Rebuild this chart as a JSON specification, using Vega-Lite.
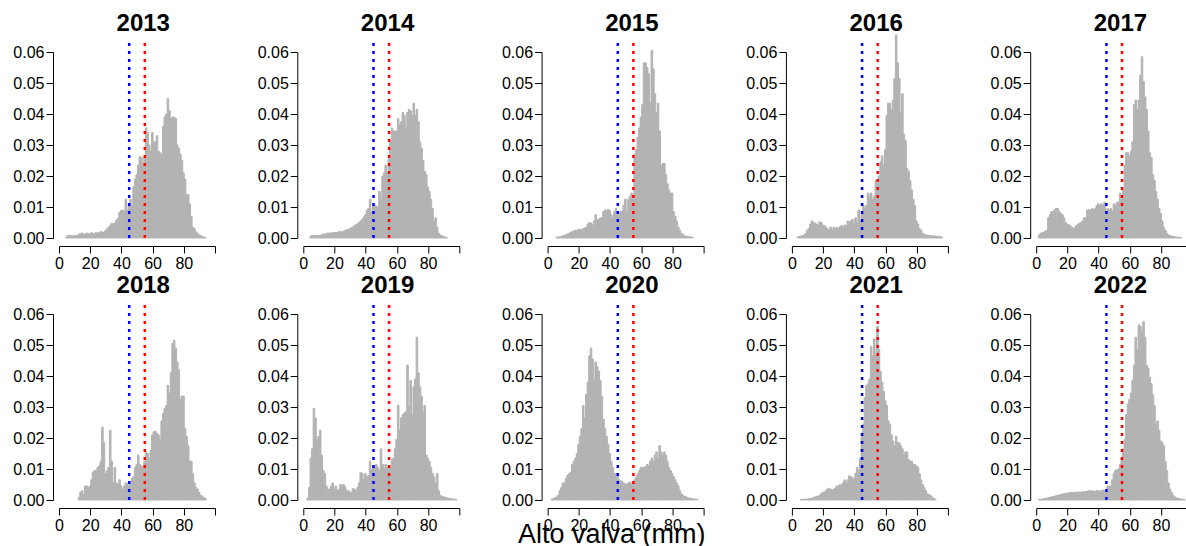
{
"$schema": "https://vega.github.io/schema/vega-lite/v6.json",
"padding": {"left": 12, "top": 10, "right": 0, "bottom": 0},
"background": "white",
"config": {"view": {"stroke": null}, "font": "Liberation Sans", "headerFacet": {"labels": false, "title": null, "labelPadding": 0, "titlePadding": 0}},
"title": {"text": "Alto valva (mm)", "orient": "bottom", "fontSize": 27, "fontWeight": "normal", "font": "Liberation Sans", "color": "#000000", "offset": -11, "anchor": "middle", "dx": 9},
"data": {"values": [
{"yr":"2013","v":45,"c":"b"},{"yr":"2013","v":55,"c":"r"},{"yr":"2014","v":45,"c":"b"},{"yr":"2014","v":55,"c":"r"},{"yr":"2015","v":45,"c":"b"},{"yr":"2015","v":55,"c":"r"},{"yr":"2016","v":45,"c":"b"},{"yr":"2016","v":55,"c":"r"},{"yr":"2017","v":45,"c":"b"},{"yr":"2017","v":55,"c":"r"},{"yr":"2018","v":45,"c":"b"},{"yr":"2018","v":55,"c":"r"},{"yr":"2019","v":45,"c":"b"},{"yr":"2019","v":55,"c":"r"},{"yr":"2020","v":45,"c":"b"},{"yr":"2020","v":55,"c":"r"},{"yr":"2021","v":45,"c":"b"},{"yr":"2021","v":55,"c":"r"},{"yr":"2022","v":45,"c":"b"},{"yr":"2022","v":55,"c":"r"},
{"yr":"2013","b":4,"d":0.0003},{"yr":"2013","b":5,"d":0.0009},{"yr":"2013","b":6,"d":0.0008},{"yr":"2013","b":7,"d":0.0008},{"yr":"2013","b":8,"d":0.0007},{"yr":"2013","b":9,"d":0.0007},{"yr":"2013","b":10,"d":0.0009},{"yr":"2013","b":11,"d":0.0008},{"yr":"2013","b":12,"d":0.0012},{"yr":"2013","b":13,"d":0.0015},{"yr":"2013","b":14,"d":0.0016},{"yr":"2013","b":15,"d":0.0013},{"yr":"2013","b":16,"d":0.0012},{"yr":"2013","b":17,"d":0.0016},{"yr":"2013","b":18,"d":0.0014},{"yr":"2013","b":19,"d":0.0013},{"yr":"2013","b":20,"d":0.0017},{"yr":"2013","b":21,"d":0.0015},{"yr":"2013","b":22,"d":0.0013},{"yr":"2013","b":23,"d":0.0018},{"yr":"2013","b":24,"d":0.0016},{"yr":"2013","b":25,"d":0.0017},{"yr":"2013","b":26,"d":0.0021},{"yr":"2013","b":27,"d":0.0019},{"yr":"2013","b":28,"d":0.0018},{"yr":"2013","b":29,"d":0.0024},{"yr":"2013","b":30,"d":0.003},{"yr":"2013","b":31,"d":0.0034},{"yr":"2013","b":32,"d":0.0041},{"yr":"2013","b":33,"d":0.0047},{"yr":"2013","b":34,"d":0.0046},{"yr":"2013","b":35,"d":0.0048},{"yr":"2013","b":36,"d":0.0058},{"yr":"2013","b":37,"d":0.0063},{"yr":"2013","b":38,"d":0.0082},{"yr":"2013","b":39,"d":0.0089},{"yr":"2013","b":40,"d":0.009},{"yr":"2013","b":41,"d":0.0085},{"yr":"2013","b":42,"d":0.0125},{"yr":"2013","b":43,"d":0.009},{"yr":"2013","b":44,"d":0.011},{"yr":"2013","b":45,"d":0.0125},{"yr":"2013","b":46,"d":0.0105},{"yr":"2013","b":47,"d":0.0165},{"yr":"2013","b":48,"d":0.019},{"yr":"2013","b":49,"d":0.0205},{"yr":"2013","b":50,"d":0.0235},{"yr":"2013","b":51,"d":0.0262},{"yr":"2013","b":52,"d":0.026},{"yr":"2013","b":53,"d":0.024},{"yr":"2013","b":54,"d":0.026},{"yr":"2013","b":55,"d":0.0355},{"yr":"2013","b":56,"d":0.034},{"yr":"2013","b":57,"d":0.03},{"yr":"2013","b":58,"d":0.028},{"yr":"2013","b":59,"d":0.034},{"yr":"2013","b":60,"d":0.031},{"yr":"2013","b":61,"d":0.031},{"yr":"2013","b":62,"d":0.033},{"yr":"2013","b":63,"d":0.028},{"yr":"2013","b":64,"d":0.0275},{"yr":"2013","b":65,"d":0.027},{"yr":"2013","b":66,"d":0.036},{"yr":"2013","b":67,"d":0.039},{"yr":"2013","b":68,"d":0.04},{"yr":"2013","b":69,"d":0.045},{"yr":"2013","b":70,"d":0.041},{"yr":"2013","b":71,"d":0.0385},{"yr":"2013","b":72,"d":0.039},{"yr":"2013","b":73,"d":0.039},{"yr":"2013","b":74,"d":0.0385},{"yr":"2013","b":75,"d":0.03},{"yr":"2013","b":76,"d":0.029},{"yr":"2013","b":77,"d":0.027},{"yr":"2013","b":78,"d":0.025},{"yr":"2013","b":79,"d":0.021},{"yr":"2013","b":80,"d":0.019},{"yr":"2013","b":81,"d":0.014},{"yr":"2013","b":82,"d":0.014},{"yr":"2013","b":83,"d":0.011},{"yr":"2013","b":84,"d":0.007},{"yr":"2013","b":85,"d":0.0035},{"yr":"2013","b":86,"d":0.003},{"yr":"2013","b":87,"d":0.002},{"yr":"2013","b":88,"d":0.0015},{"yr":"2013","b":89,"d":0.001},{"yr":"2013","b":90,"d":0.0008},{"yr":"2013","b":91,"d":0.0005},{"yr":"2013","b":92,"d":0.0003},{"yr":"2013","b":93,"d":0.0002},
{"yr":"2014","b":4,"d":0.0006},{"yr":"2014","b":5,"d":0.0008},{"yr":"2014","b":6,"d":0.0008},{"yr":"2014","b":7,"d":0.0008},{"yr":"2014","b":8,"d":0.0007},{"yr":"2014","b":9,"d":0.0009},{"yr":"2014","b":10,"d":0.0008},{"yr":"2014","b":11,"d":0.001},{"yr":"2014","b":12,"d":0.0013},{"yr":"2014","b":13,"d":0.0012},{"yr":"2014","b":14,"d":0.0015},{"yr":"2014","b":15,"d":0.0016},{"yr":"2014","b":16,"d":0.0014},{"yr":"2014","b":17,"d":0.0017},{"yr":"2014","b":18,"d":0.0016},{"yr":"2014","b":19,"d":0.0018},{"yr":"2014","b":20,"d":0.0018},{"yr":"2014","b":21,"d":0.0017},{"yr":"2014","b":22,"d":0.002},{"yr":"2014","b":23,"d":0.0021},{"yr":"2014","b":24,"d":0.0019},{"yr":"2014","b":25,"d":0.0022},{"yr":"2014","b":26,"d":0.0024},{"yr":"2014","b":27,"d":0.0028},{"yr":"2014","b":28,"d":0.0025},{"yr":"2014","b":29,"d":0.003},{"yr":"2014","b":30,"d":0.0033},{"yr":"2014","b":31,"d":0.0035},{"yr":"2014","b":32,"d":0.004},{"yr":"2014","b":33,"d":0.0043},{"yr":"2014","b":34,"d":0.0046},{"yr":"2014","b":35,"d":0.005},{"yr":"2014","b":36,"d":0.0055},{"yr":"2014","b":37,"d":0.006},{"yr":"2014","b":38,"d":0.0068},{"yr":"2014","b":39,"d":0.0075},{"yr":"2014","b":40,"d":0.009},{"yr":"2014","b":41,"d":0.0095},{"yr":"2014","b":42,"d":0.0125},{"yr":"2014","b":43,"d":0.0085},{"yr":"2014","b":44,"d":0.0105},{"yr":"2014","b":45,"d":0.0105},{"yr":"2014","b":46,"d":0.0103},{"yr":"2014","b":47,"d":0.01},{"yr":"2014","b":48,"d":0.015},{"yr":"2014","b":49,"d":0.0125},{"yr":"2014","b":50,"d":0.0198},{"yr":"2014","b":51,"d":0.021},{"yr":"2014","b":52,"d":0.0235},{"yr":"2014","b":53,"d":0.021},{"yr":"2014","b":54,"d":0.0255},{"yr":"2014","b":55,"d":0.031},{"yr":"2014","b":56,"d":0.0355},{"yr":"2014","b":57,"d":0.0345},{"yr":"2014","b":58,"d":0.0345},{"yr":"2014","b":59,"d":0.0345},{"yr":"2014","b":60,"d":0.0385},{"yr":"2014","b":61,"d":0.0365},{"yr":"2014","b":62,"d":0.0375},{"yr":"2014","b":63,"d":0.0405},{"yr":"2014","b":64,"d":0.0395},{"yr":"2014","b":65,"d":0.0355},{"yr":"2014","b":66,"d":0.0405},{"yr":"2014","b":67,"d":0.0415},{"yr":"2014","b":68,"d":0.041},{"yr":"2014","b":69,"d":0.0395},{"yr":"2014","b":70,"d":0.0435},{"yr":"2014","b":71,"d":0.0395},{"yr":"2014","b":72,"d":0.0415},{"yr":"2014","b":73,"d":0.0375},{"yr":"2014","b":74,"d":0.031},{"yr":"2014","b":75,"d":0.029},{"yr":"2014","b":76,"d":0.025},{"yr":"2014","b":77,"d":0.0215},{"yr":"2014","b":78,"d":0.0205},{"yr":"2014","b":79,"d":0.0165},{"yr":"2014","b":80,"d":0.015},{"yr":"2014","b":81,"d":0.0125},{"yr":"2014","b":82,"d":0.0095},{"yr":"2014","b":83,"d":0.0055},{"yr":"2014","b":84,"d":0.0065},{"yr":"2014","b":85,"d":0.0035},{"yr":"2014","b":86,"d":0.0015},{"yr":"2014","b":87,"d":0.001},{"yr":"2014","b":88,"d":0.0008},{"yr":"2014","b":89,"d":0.0005},{"yr":"2014","b":90,"d":0.0003},{"yr":"2014","b":91,"d":0.0002},
{"yr":"2015","b":5,"d":0.0002},{"yr":"2015","b":6,"d":0.0003},{"yr":"2015","b":7,"d":0.0004},{"yr":"2015","b":8,"d":0.0005},{"yr":"2015","b":9,"d":0.0007},{"yr":"2015","b":10,"d":0.0009},{"yr":"2015","b":11,"d":0.001},{"yr":"2015","b":12,"d":0.0013},{"yr":"2015","b":13,"d":0.0015},{"yr":"2015","b":14,"d":0.0018},{"yr":"2015","b":15,"d":0.002},{"yr":"2015","b":16,"d":0.0023},{"yr":"2015","b":17,"d":0.0025},{"yr":"2015","b":18,"d":0.0024},{"yr":"2015","b":19,"d":0.0028},{"yr":"2015","b":20,"d":0.0028},{"yr":"2015","b":21,"d":0.0026},{"yr":"2015","b":22,"d":0.003},{"yr":"2015","b":23,"d":0.0032},{"yr":"2015","b":24,"d":0.0035},{"yr":"2015","b":25,"d":0.0045},{"yr":"2015","b":26,"d":0.005},{"yr":"2015","b":27,"d":0.0048},{"yr":"2015","b":28,"d":0.0042},{"yr":"2015","b":29,"d":0.0055},{"yr":"2015","b":30,"d":0.0075},{"yr":"2015","b":31,"d":0.006},{"yr":"2015","b":32,"d":0.006},{"yr":"2015","b":33,"d":0.0065},{"yr":"2015","b":34,"d":0.0065},{"yr":"2015","b":35,"d":0.0085},{"yr":"2015","b":36,"d":0.009},{"yr":"2015","b":37,"d":0.0088},{"yr":"2015","b":38,"d":0.0092},{"yr":"2015","b":39,"d":0.0088},{"yr":"2015","b":40,"d":0.0075},{"yr":"2015","b":41,"d":0.0065},{"yr":"2015","b":42,"d":0.0085},{"yr":"2015","b":43,"d":0.0095},{"yr":"2015","b":44,"d":0.0075},{"yr":"2015","b":45,"d":0.0075},{"yr":"2015","b":46,"d":0.0085},{"yr":"2015","b":47,"d":0.0085},{"yr":"2015","b":48,"d":0.0105},{"yr":"2015","b":49,"d":0.0125},{"yr":"2015","b":50,"d":0.0085},{"yr":"2015","b":51,"d":0.0125},{"yr":"2015","b":52,"d":0.0135},{"yr":"2015","b":53,"d":0.0145},{"yr":"2015","b":54,"d":0.0125},{"yr":"2015","b":55,"d":0.027},{"yr":"2015","b":56,"d":0.0285},{"yr":"2015","b":57,"d":0.0325},{"yr":"2015","b":58,"d":0.0355},{"yr":"2015","b":59,"d":0.039},{"yr":"2015","b":60,"d":0.043},{"yr":"2015","b":61,"d":0.0565},{"yr":"2015","b":62,"d":0.0565},{"yr":"2015","b":63,"d":0.055},{"yr":"2015","b":64,"d":0.053},{"yr":"2015","b":65,"d":0.0435},{"yr":"2015","b":66,"d":0.0605},{"yr":"2015","b":67,"d":0.0545},{"yr":"2015","b":68,"d":0.0465},{"yr":"2015","b":69,"d":0.0405},{"yr":"2015","b":70,"d":0.0435},{"yr":"2015","b":71,"d":0.0345},{"yr":"2015","b":72,"d":0.0235},{"yr":"2015","b":73,"d":0.024},{"yr":"2015","b":74,"d":0.024},{"yr":"2015","b":75,"d":0.0205},{"yr":"2015","b":76,"d":0.0175},{"yr":"2015","b":77,"d":0.0155},{"yr":"2015","b":78,"d":0.0145},{"yr":"2015","b":79,"d":0.0145},{"yr":"2015","b":80,"d":0.0085},{"yr":"2015","b":81,"d":0.007},{"yr":"2015","b":82,"d":0.0055},{"yr":"2015","b":83,"d":0.0035},{"yr":"2015","b":84,"d":0.0025},{"yr":"2015","b":85,"d":0.0015},{"yr":"2015","b":86,"d":0.0012},{"yr":"2015","b":87,"d":0.0007},{"yr":"2015","b":88,"d":0.0006},{"yr":"2015","b":89,"d":0.0005},{"yr":"2015","b":90,"d":0.0004},{"yr":"2015","b":91,"d":0.0003},{"yr":"2015","b":92,"d":0.0002},
{"yr":"2016","b":3,"d":0.0003},{"yr":"2016","b":4,"d":0.0005},{"yr":"2016","b":5,"d":0.0006},{"yr":"2016","b":6,"d":0.0008},{"yr":"2016","b":7,"d":0.001},{"yr":"2016","b":8,"d":0.0015},{"yr":"2016","b":9,"d":0.0025},{"yr":"2016","b":10,"d":0.003},{"yr":"2016","b":11,"d":0.0045},{"yr":"2016","b":12,"d":0.0055},{"yr":"2016","b":13,"d":0.005},{"yr":"2016","b":14,"d":0.0048},{"yr":"2016","b":15,"d":0.0045},{"yr":"2016","b":16,"d":0.004},{"yr":"2016","b":17,"d":0.0052},{"yr":"2016","b":18,"d":0.005},{"yr":"2016","b":19,"d":0.0042},{"yr":"2016","b":20,"d":0.004},{"yr":"2016","b":21,"d":0.0035},{"yr":"2016","b":22,"d":0.003},{"yr":"2016","b":23,"d":0.0025},{"yr":"2016","b":24,"d":0.0035},{"yr":"2016","b":25,"d":0.0025},{"yr":"2016","b":26,"d":0.0035},{"yr":"2016","b":27,"d":0.003},{"yr":"2016","b":28,"d":0.0035},{"yr":"2016","b":29,"d":0.003},{"yr":"2016","b":30,"d":0.0037},{"yr":"2016","b":31,"d":0.004},{"yr":"2016","b":32,"d":0.0033},{"yr":"2016","b":33,"d":0.0042},{"yr":"2016","b":34,"d":0.004},{"yr":"2016","b":35,"d":0.0055},{"yr":"2016","b":36,"d":0.0052},{"yr":"2016","b":37,"d":0.0055},{"yr":"2016","b":38,"d":0.006},{"yr":"2016","b":39,"d":0.0045},{"yr":"2016","b":40,"d":0.0065},{"yr":"2016","b":41,"d":0.0048},{"yr":"2016","b":42,"d":0.009},{"yr":"2016","b":43,"d":0.0055},{"yr":"2016","b":44,"d":0.0085},{"yr":"2016","b":45,"d":0.0105},{"yr":"2016","b":46,"d":0.0095},{"yr":"2016","b":47,"d":0.0105},{"yr":"2016","b":48,"d":0.0145},{"yr":"2016","b":49,"d":0.0135},{"yr":"2016","b":50,"d":0.0145},{"yr":"2016","b":51,"d":0.0125},{"yr":"2016","b":52,"d":0.0135},{"yr":"2016","b":53,"d":0.0185},{"yr":"2016","b":54,"d":0.0175},{"yr":"2016","b":55,"d":0.02},{"yr":"2016","b":56,"d":0.0245},{"yr":"2016","b":57,"d":0.0265},{"yr":"2016","b":58,"d":0.0235},{"yr":"2016","b":59,"d":0.0285},{"yr":"2016","b":60,"d":0.0395},{"yr":"2016","b":61,"d":0.0435},{"yr":"2016","b":62,"d":0.0435},{"yr":"2016","b":63,"d":0.0415},{"yr":"2016","b":64,"d":0.0445},{"yr":"2016","b":65,"d":0.0515},{"yr":"2016","b":66,"d":0.0655},{"yr":"2016","b":67,"d":0.0565},{"yr":"2016","b":68,"d":0.0515},{"yr":"2016","b":69,"d":0.0405},{"yr":"2016","b":70,"d":0.0465},{"yr":"2016","b":71,"d":0.0335},{"yr":"2016","b":72,"d":0.0315},{"yr":"2016","b":73,"d":0.0225},{"yr":"2016","b":74,"d":0.0215},{"yr":"2016","b":75,"d":0.0185},{"yr":"2016","b":76,"d":0.0155},{"yr":"2016","b":77,"d":0.0125},{"yr":"2016","b":78,"d":0.0105},{"yr":"2016","b":79,"d":0.0055},{"yr":"2016","b":80,"d":0.0045},{"yr":"2016","b":81,"d":0.003},{"yr":"2016","b":82,"d":0.0025},{"yr":"2016","b":83,"d":0.0015},{"yr":"2016","b":84,"d":0.0012},{"yr":"2016","b":85,"d":0.001},{"yr":"2016","b":86,"d":0.0009},{"yr":"2016","b":87,"d":0.0008},{"yr":"2016","b":88,"d":0.0008},{"yr":"2016","b":89,"d":0.0007},{"yr":"2016","b":90,"d":0.0007},{"yr":"2016","b":91,"d":0.0006},{"yr":"2016","b":92,"d":0.0006},{"yr":"2016","b":93,"d":0.0005},{"yr":"2016","b":94,"d":0.0005},{"yr":"2016","b":95,"d":0.0003},
{"yr":"2017","b":1,"d":0.0008},{"yr":"2017","b":2,"d":0.0015},{"yr":"2017","b":3,"d":0.0017},{"yr":"2017","b":4,"d":0.0018},{"yr":"2017","b":5,"d":0.0022},{"yr":"2017","b":6,"d":0.0025},{"yr":"2017","b":7,"d":0.0065},{"yr":"2017","b":8,"d":0.0075},{"yr":"2017","b":9,"d":0.0085},{"yr":"2017","b":10,"d":0.0085},{"yr":"2017","b":11,"d":0.0092},{"yr":"2017","b":12,"d":0.0095},{"yr":"2017","b":13,"d":0.0095},{"yr":"2017","b":14,"d":0.0085},{"yr":"2017","b":15,"d":0.008},{"yr":"2017","b":16,"d":0.0075},{"yr":"2017","b":17,"d":0.0065},{"yr":"2017","b":18,"d":0.005},{"yr":"2017","b":19,"d":0.0045},{"yr":"2017","b":20,"d":0.0043},{"yr":"2017","b":21,"d":0.004},{"yr":"2017","b":22,"d":0.0035},{"yr":"2017","b":23,"d":0.003},{"yr":"2017","b":24,"d":0.0035},{"yr":"2017","b":25,"d":0.004},{"yr":"2017","b":26,"d":0.0045},{"yr":"2017","b":27,"d":0.0048},{"yr":"2017","b":28,"d":0.005},{"yr":"2017","b":29,"d":0.0055},{"yr":"2017","b":30,"d":0.0065},{"yr":"2017","b":31,"d":0.0065},{"yr":"2017","b":32,"d":0.009},{"yr":"2017","b":33,"d":0.0092},{"yr":"2017","b":34,"d":0.0088},{"yr":"2017","b":35,"d":0.0095},{"yr":"2017","b":36,"d":0.0092},{"yr":"2017","b":37,"d":0.0095},{"yr":"2017","b":38,"d":0.0105},{"yr":"2017","b":39,"d":0.011},{"yr":"2017","b":40,"d":0.0105},{"yr":"2017","b":41,"d":0.011},{"yr":"2017","b":42,"d":0.0105},{"yr":"2017","b":43,"d":0.0115},{"yr":"2017","b":44,"d":0.0085},{"yr":"2017","b":45,"d":0.0095},{"yr":"2017","b":46,"d":0.009},{"yr":"2017","b":47,"d":0.0095},{"yr":"2017","b":48,"d":0.0085},{"yr":"2017","b":49,"d":0.011},{"yr":"2017","b":50,"d":0.0105},{"yr":"2017","b":51,"d":0.0115},{"yr":"2017","b":52,"d":0.0115},{"yr":"2017","b":53,"d":0.0145},{"yr":"2017","b":54,"d":0.0125},{"yr":"2017","b":55,"d":0.0155},{"yr":"2017","b":56,"d":0.0235},{"yr":"2017","b":57,"d":0.0275},{"yr":"2017","b":58,"d":0.0275},{"yr":"2017","b":59,"d":0.0265},{"yr":"2017","b":60,"d":0.028},{"yr":"2017","b":61,"d":0.031},{"yr":"2017","b":62,"d":0.043},{"yr":"2017","b":63,"d":0.0445},{"yr":"2017","b":64,"d":0.0415},{"yr":"2017","b":65,"d":0.0445},{"yr":"2017","b":66,"d":0.0525},{"yr":"2017","b":67,"d":0.0585},{"yr":"2017","b":68,"d":0.0505},{"yr":"2017","b":69,"d":0.0455},{"yr":"2017","b":70,"d":0.0415},{"yr":"2017","b":71,"d":0.0345},{"yr":"2017","b":72,"d":0.0275},{"yr":"2017","b":73,"d":0.026},{"yr":"2017","b":74,"d":0.0205},{"yr":"2017","b":75,"d":0.0185},{"yr":"2017","b":76,"d":0.015},{"yr":"2017","b":77,"d":0.0125},{"yr":"2017","b":78,"d":0.0095},{"yr":"2017","b":79,"d":0.008},{"yr":"2017","b":80,"d":0.0055},{"yr":"2017","b":81,"d":0.0035},{"yr":"2017","b":82,"d":0.0025},{"yr":"2017","b":83,"d":0.0015},{"yr":"2017","b":84,"d":0.001},{"yr":"2017","b":85,"d":0.0008},{"yr":"2017","b":86,"d":0.0006},{"yr":"2017","b":87,"d":0.0005},{"yr":"2017","b":88,"d":0.0004},{"yr":"2017","b":89,"d":0.0003},{"yr":"2017","b":90,"d":0.0002},{"yr":"2017","b":91,"d":0.0002},{"yr":"2017","b":92,"d":0.0001},
{"yr":"2018","b":12,"d":0.0008},{"yr":"2018","b":13,"d":0.0025},{"yr":"2018","b":14,"d":0.003},{"yr":"2018","b":15,"d":0.0018},{"yr":"2018","b":16,"d":0.0045},{"yr":"2018","b":17,"d":0.0045},{"yr":"2018","b":18,"d":0.004},{"yr":"2018","b":19,"d":0.0045},{"yr":"2018","b":20,"d":0.0065},{"yr":"2018","b":21,"d":0.009},{"yr":"2018","b":22,"d":0.0095},{"yr":"2018","b":23,"d":0.0095},{"yr":"2018","b":24,"d":0.0105},{"yr":"2018","b":25,"d":0.011},{"yr":"2018","b":26,"d":0.0125},{"yr":"2018","b":27,"d":0.0235},{"yr":"2018","b":28,"d":0.0185},{"yr":"2018","b":29,"d":0.0085},{"yr":"2018","b":30,"d":0.0095},{"yr":"2018","b":31,"d":0.0105},{"yr":"2018","b":32,"d":0.0225},{"yr":"2018","b":33,"d":0.0125},{"yr":"2018","b":34,"d":0.0055},{"yr":"2018","b":35,"d":0.0105},{"yr":"2018","b":36,"d":0.0055},{"yr":"2018","b":37,"d":0.005},{"yr":"2018","b":38,"d":0.0065},{"yr":"2018","b":39,"d":0.0045},{"yr":"2018","b":40,"d":0.0035},{"yr":"2018","b":41,"d":0.0045},{"yr":"2018","b":42,"d":0.0055},{"yr":"2018","b":43,"d":0.0052},{"yr":"2018","b":44,"d":0.0045},{"yr":"2018","b":45,"d":0.006},{"yr":"2018","b":46,"d":0.007},{"yr":"2018","b":47,"d":0.0075},{"yr":"2018","b":48,"d":0.0105},{"yr":"2018","b":49,"d":0.0115},{"yr":"2018","b":50,"d":0.0145},{"yr":"2018","b":51,"d":0.0115},{"yr":"2018","b":52,"d":0.011},{"yr":"2018","b":53,"d":0.0105},{"yr":"2018","b":54,"d":0.0125},{"yr":"2018","b":55,"d":0.0155},{"yr":"2018","b":56,"d":0.015},{"yr":"2018","b":57,"d":0.0135},{"yr":"2018","b":58,"d":0.016},{"yr":"2018","b":59,"d":0.021},{"yr":"2018","b":60,"d":0.022},{"yr":"2018","b":61,"d":0.0222},{"yr":"2018","b":62,"d":0.0215},{"yr":"2018","b":63,"d":0.021},{"yr":"2018","b":64,"d":0.0195},{"yr":"2018","b":65,"d":0.0255},{"yr":"2018","b":66,"d":0.028},{"yr":"2018","b":67,"d":0.0295},{"yr":"2018","b":68,"d":0.0305},{"yr":"2018","b":69,"d":0.037},{"yr":"2018","b":70,"d":0.0345},{"yr":"2018","b":71,"d":0.041},{"yr":"2018","b":72,"d":0.0505},{"yr":"2018","b":73,"d":0.0515},{"yr":"2018","b":74,"d":0.049},{"yr":"2018","b":75,"d":0.0445},{"yr":"2018","b":76,"d":0.042},{"yr":"2018","b":77,"d":0.0325},{"yr":"2018","b":78,"d":0.0335},{"yr":"2018","b":79,"d":0.0335},{"yr":"2018","b":80,"d":0.023},{"yr":"2018","b":81,"d":0.0205},{"yr":"2018","b":82,"d":0.0175},{"yr":"2018","b":83,"d":0.0125},{"yr":"2018","b":84,"d":0.0125},{"yr":"2018","b":85,"d":0.0085},{"yr":"2018","b":86,"d":0.0055},{"yr":"2018","b":87,"d":0.004},{"yr":"2018","b":88,"d":0.0035},{"yr":"2018","b":89,"d":0.0025},{"yr":"2018","b":90,"d":0.0015},{"yr":"2018","b":91,"d":0.0012},{"yr":"2018","b":92,"d":0.0008},{"yr":"2018","b":93,"d":0.0005},
{"yr":"2019","b":2,"d":0.0005},{"yr":"2019","b":3,"d":0.004},{"yr":"2019","b":4,"d":0.0135},{"yr":"2019","b":5,"d":0.0165},{"yr":"2019","b":6,"d":0.0295},{"yr":"2019","b":7,"d":0.0265},{"yr":"2019","b":8,"d":0.0195},{"yr":"2019","b":9,"d":0.0205},{"yr":"2019","b":10,"d":0.0225},{"yr":"2019","b":11,"d":0.0145},{"yr":"2019","b":12,"d":0.0095},{"yr":"2019","b":13,"d":0.0085},{"yr":"2019","b":14,"d":0.0045},{"yr":"2019","b":15,"d":0.0035},{"yr":"2019","b":16,"d":0.0035},{"yr":"2019","b":17,"d":0.0045},{"yr":"2019","b":18,"d":0.0055},{"yr":"2019","b":19,"d":0.0035},{"yr":"2019","b":20,"d":0.0045},{"yr":"2019","b":21,"d":0.003},{"yr":"2019","b":22,"d":0.0035},{"yr":"2019","b":23,"d":0.005},{"yr":"2019","b":24,"d":0.0045},{"yr":"2019","b":25,"d":0.005},{"yr":"2019","b":26,"d":0.0042},{"yr":"2019","b":27,"d":0.003},{"yr":"2019","b":28,"d":0.003},{"yr":"2019","b":29,"d":0.0025},{"yr":"2019","b":30,"d":0.0025},{"yr":"2019","b":31,"d":0.0037},{"yr":"2019","b":32,"d":0.0035},{"yr":"2019","b":33,"d":0.003},{"yr":"2019","b":34,"d":0.004},{"yr":"2019","b":35,"d":0.0055},{"yr":"2019","b":36,"d":0.0088},{"yr":"2019","b":37,"d":0.0085},{"yr":"2019","b":38,"d":0.0065},{"yr":"2019","b":39,"d":0.0085},{"yr":"2019","b":40,"d":0.0075},{"yr":"2019","b":41,"d":0.0078},{"yr":"2019","b":42,"d":0.0125},{"yr":"2019","b":43,"d":0.0098},{"yr":"2019","b":44,"d":0.011},{"yr":"2019","b":45,"d":0.011},{"yr":"2019","b":46,"d":0.0115},{"yr":"2019","b":47,"d":0.0105},{"yr":"2019","b":48,"d":0.0095},{"yr":"2019","b":49,"d":0.0165},{"yr":"2019","b":50,"d":0.0115},{"yr":"2019","b":51,"d":0.01},{"yr":"2019","b":52,"d":0.0115},{"yr":"2019","b":53,"d":0.0105},{"yr":"2019","b":54,"d":0.01},{"yr":"2019","b":55,"d":0.0105},{"yr":"2019","b":56,"d":0.013},{"yr":"2019","b":57,"d":0.0135},{"yr":"2019","b":58,"d":0.0165},{"yr":"2019","b":59,"d":0.0195},{"yr":"2019","b":60,"d":0.0305},{"yr":"2019","b":61,"d":0.0225},{"yr":"2019","b":62,"d":0.0265},{"yr":"2019","b":63,"d":0.0275},{"yr":"2019","b":64,"d":0.028},{"yr":"2019","b":65,"d":0.0285},{"yr":"2019","b":66,"d":0.0435},{"yr":"2019","b":67,"d":0.03},{"yr":"2019","b":68,"d":0.0385},{"yr":"2019","b":69,"d":0.0275},{"yr":"2019","b":70,"d":0.0365},{"yr":"2019","b":71,"d":0.039},{"yr":"2019","b":72,"d":0.0525},{"yr":"2019","b":73,"d":0.041},{"yr":"2019","b":74,"d":0.0365},{"yr":"2019","b":75,"d":0.0335},{"yr":"2019","b":76,"d":0.0285},{"yr":"2019","b":77,"d":0.0305},{"yr":"2019","b":78,"d":0.0145},{"yr":"2019","b":79,"d":0.0135},{"yr":"2019","b":80,"d":0.0125},{"yr":"2019","b":81,"d":0.0105},{"yr":"2019","b":82,"d":0.0085},{"yr":"2019","b":83,"d":0.0075},{"yr":"2019","b":84,"d":0.0055},{"yr":"2019","b":85,"d":0.0085},{"yr":"2019","b":86,"d":0.003},{"yr":"2019","b":87,"d":0.0015},{"yr":"2019","b":88,"d":0.0012},{"yr":"2019","b":89,"d":0.001},{"yr":"2019","b":90,"d":0.0009},{"yr":"2019","b":91,"d":0.0007},{"yr":"2019","b":92,"d":0.0006},{"yr":"2019","b":93,"d":0.0005},{"yr":"2019","b":94,"d":0.0004},{"yr":"2019","b":95,"d":0.0003},{"yr":"2019","b":96,"d":0.0003},{"yr":"2019","b":97,"d":0.0002},
{"yr":"2020","b":2,"d":0.0003},{"yr":"2020","b":3,"d":0.0005},{"yr":"2020","b":4,"d":0.0008},{"yr":"2020","b":5,"d":0.001},{"yr":"2020","b":6,"d":0.0015},{"yr":"2020","b":7,"d":0.003},{"yr":"2020","b":8,"d":0.004},{"yr":"2020","b":9,"d":0.0055},{"yr":"2020","b":10,"d":0.0055},{"yr":"2020","b":11,"d":0.007},{"yr":"2020","b":12,"d":0.008},{"yr":"2020","b":13,"d":0.0085},{"yr":"2020","b":14,"d":0.009},{"yr":"2020","b":15,"d":0.0115},{"yr":"2020","b":16,"d":0.0125},{"yr":"2020","b":17,"d":0.0135},{"yr":"2020","b":18,"d":0.015},{"yr":"2020","b":19,"d":0.018},{"yr":"2020","b":20,"d":0.0205},{"yr":"2020","b":21,"d":0.023},{"yr":"2020","b":22,"d":0.0305},{"yr":"2020","b":23,"d":0.0265},{"yr":"2020","b":24,"d":0.034},{"yr":"2020","b":25,"d":0.038},{"yr":"2020","b":26,"d":0.0465},{"yr":"2020","b":27,"d":0.049},{"yr":"2020","b":28,"d":0.0455},{"yr":"2020","b":29,"d":0.0385},{"yr":"2020","b":30,"d":0.0445},{"yr":"2020","b":31,"d":0.043},{"yr":"2020","b":32,"d":0.0415},{"yr":"2020","b":33,"d":0.0385},{"yr":"2020","b":34,"d":0.0335},{"yr":"2020","b":35,"d":0.026},{"yr":"2020","b":36,"d":0.023},{"yr":"2020","b":37,"d":0.0205},{"yr":"2020","b":38,"d":0.018},{"yr":"2020","b":39,"d":0.015},{"yr":"2020","b":40,"d":0.0125},{"yr":"2020","b":41,"d":0.0105},{"yr":"2020","b":42,"d":0.0085},{"yr":"2020","b":43,"d":0.0085},{"yr":"2020","b":44,"d":0.0085},{"yr":"2020","b":45,"d":0.0065},{"yr":"2020","b":46,"d":0.0062},{"yr":"2020","b":47,"d":0.006},{"yr":"2020","b":48,"d":0.0055},{"yr":"2020","b":49,"d":0.005},{"yr":"2020","b":50,"d":0.0052},{"yr":"2020","b":51,"d":0.0055},{"yr":"2020","b":52,"d":0.0058},{"yr":"2020","b":53,"d":0.0052},{"yr":"2020","b":54,"d":0.006},{"yr":"2020","b":55,"d":0.0065},{"yr":"2020","b":56,"d":0.0075},{"yr":"2020","b":57,"d":0.0085},{"yr":"2020","b":58,"d":0.0095},{"yr":"2020","b":59,"d":0.0105},{"yr":"2020","b":60,"d":0.0105},{"yr":"2020","b":61,"d":0.0105},{"yr":"2020","b":62,"d":0.0108},{"yr":"2020","b":63,"d":0.0115},{"yr":"2020","b":64,"d":0.011},{"yr":"2020","b":65,"d":0.0125},{"yr":"2020","b":66,"d":0.0135},{"yr":"2020","b":67,"d":0.0125},{"yr":"2020","b":68,"d":0.0145},{"yr":"2020","b":69,"d":0.0155},{"yr":"2020","b":70,"d":0.0135},{"yr":"2020","b":71,"d":0.0175},{"yr":"2020","b":72,"d":0.0155},{"yr":"2020","b":73,"d":0.0145},{"yr":"2020","b":74,"d":0.0155},{"yr":"2020","b":75,"d":0.0145},{"yr":"2020","b":76,"d":0.0125},{"yr":"2020","b":77,"d":0.0105},{"yr":"2020","b":78,"d":0.0095},{"yr":"2020","b":79,"d":0.0085},{"yr":"2020","b":80,"d":0.0075},{"yr":"2020","b":81,"d":0.0065},{"yr":"2020","b":82,"d":0.0055},{"yr":"2020","b":83,"d":0.0045},{"yr":"2020","b":84,"d":0.003},{"yr":"2020","b":85,"d":0.002},{"yr":"2020","b":86,"d":0.0015},{"yr":"2020","b":87,"d":0.0012},{"yr":"2020","b":88,"d":0.001},{"yr":"2020","b":89,"d":0.0008},{"yr":"2020","b":90,"d":0.0006},{"yr":"2020","b":91,"d":0.0005},{"yr":"2020","b":92,"d":0.0004},{"yr":"2020","b":93,"d":0.0003},{"yr":"2020","b":94,"d":0.0003},{"yr":"2020","b":95,"d":0.0002},
{"yr":"2021","b":5,"d":0.0002},{"yr":"2021","b":6,"d":0.0002},{"yr":"2021","b":7,"d":0.0002},{"yr":"2021","b":8,"d":0.0003},{"yr":"2021","b":9,"d":0.0003},{"yr":"2021","b":10,"d":0.0004},{"yr":"2021","b":11,"d":0.0005},{"yr":"2021","b":12,"d":0.0006},{"yr":"2021","b":13,"d":0.0008},{"yr":"2021","b":14,"d":0.001},{"yr":"2021","b":15,"d":0.0012},{"yr":"2021","b":16,"d":0.0012},{"yr":"2021","b":17,"d":0.0015},{"yr":"2021","b":18,"d":0.002},{"yr":"2021","b":19,"d":0.0025},{"yr":"2021","b":20,"d":0.0025},{"yr":"2021","b":21,"d":0.003},{"yr":"2021","b":22,"d":0.0035},{"yr":"2021","b":23,"d":0.0038},{"yr":"2021","b":24,"d":0.0035},{"yr":"2021","b":25,"d":0.0033},{"yr":"2021","b":26,"d":0.0035},{"yr":"2021","b":27,"d":0.0038},{"yr":"2021","b":28,"d":0.0045},{"yr":"2021","b":29,"d":0.0045},{"yr":"2021","b":30,"d":0.005},{"yr":"2021","b":31,"d":0.0048},{"yr":"2021","b":32,"d":0.0055},{"yr":"2021","b":33,"d":0.0065},{"yr":"2021","b":34,"d":0.0055},{"yr":"2021","b":35,"d":0.0065},{"yr":"2021","b":36,"d":0.0078},{"yr":"2021","b":37,"d":0.0075},{"yr":"2021","b":38,"d":0.0072},{"yr":"2021","b":39,"d":0.0065},{"yr":"2021","b":40,"d":0.0085},{"yr":"2021","b":41,"d":0.0105},{"yr":"2021","b":42,"d":0.0095},{"yr":"2021","b":43,"d":0.0135},{"yr":"2021","b":44,"d":0.0205},{"yr":"2021","b":45,"d":0.0245},{"yr":"2021","b":46,"d":0.033},{"yr":"2021","b":47,"d":0.037},{"yr":"2021","b":48,"d":0.0375},{"yr":"2021","b":49,"d":0.039},{"yr":"2021","b":50,"d":0.0495},{"yr":"2021","b":51,"d":0.0465},{"yr":"2021","b":52,"d":0.052},{"yr":"2021","b":53,"d":0.0465},{"yr":"2021","b":54,"d":0.056},{"yr":"2021","b":55,"d":0.0485},{"yr":"2021","b":56,"d":0.0415},{"yr":"2021","b":57,"d":0.038},{"yr":"2021","b":58,"d":0.035},{"yr":"2021","b":59,"d":0.032},{"yr":"2021","b":60,"d":0.0305},{"yr":"2021","b":61,"d":0.0255},{"yr":"2021","b":62,"d":0.0245},{"yr":"2021","b":63,"d":0.021},{"yr":"2021","b":64,"d":0.019},{"yr":"2021","b":65,"d":0.0175},{"yr":"2021","b":66,"d":0.0205},{"yr":"2021","b":67,"d":0.0185},{"yr":"2021","b":68,"d":0.0185},{"yr":"2021","b":69,"d":0.0175},{"yr":"2021","b":70,"d":0.0165},{"yr":"2021","b":71,"d":0.0145},{"yr":"2021","b":72,"d":0.0155},{"yr":"2021","b":73,"d":0.0155},{"yr":"2021","b":74,"d":0.013},{"yr":"2021","b":75,"d":0.0125},{"yr":"2021","b":76,"d":0.0125},{"yr":"2021","b":77,"d":0.0115},{"yr":"2021","b":78,"d":0.0115},{"yr":"2021","b":79,"d":0.011},{"yr":"2021","b":80,"d":0.0105},{"yr":"2021","b":81,"d":0.0085},{"yr":"2021","b":82,"d":0.0065},{"yr":"2021","b":83,"d":0.005},{"yr":"2021","b":84,"d":0.004},{"yr":"2021","b":85,"d":0.003},{"yr":"2021","b":86,"d":0.002},{"yr":"2021","b":87,"d":0.0018},{"yr":"2021","b":88,"d":0.0015},{"yr":"2021","b":89,"d":0.001},{"yr":"2021","b":90,"d":0.0005},{"yr":"2021","b":91,"d":0.0003},
{"yr":"2022","b":1,"d":0.0002},{"yr":"2022","b":2,"d":0.0002},{"yr":"2022","b":3,"d":0.0003},{"yr":"2022","b":4,"d":0.0004},{"yr":"2022","b":5,"d":0.0005},{"yr":"2022","b":6,"d":0.0006},{"yr":"2022","b":7,"d":0.0007},{"yr":"2022","b":8,"d":0.0009},{"yr":"2022","b":9,"d":0.001},{"yr":"2022","b":10,"d":0.0011},{"yr":"2022","b":11,"d":0.0012},{"yr":"2022","b":12,"d":0.0014},{"yr":"2022","b":13,"d":0.0015},{"yr":"2022","b":14,"d":0.0016},{"yr":"2022","b":15,"d":0.0018},{"yr":"2022","b":16,"d":0.0019},{"yr":"2022","b":17,"d":0.002},{"yr":"2022","b":18,"d":0.0021},{"yr":"2022","b":19,"d":0.0022},{"yr":"2022","b":20,"d":0.0023},{"yr":"2022","b":21,"d":0.0025},{"yr":"2022","b":22,"d":0.0024},{"yr":"2022","b":23,"d":0.0024},{"yr":"2022","b":24,"d":0.0025},{"yr":"2022","b":25,"d":0.0025},{"yr":"2022","b":26,"d":0.0025},{"yr":"2022","b":27,"d":0.0026},{"yr":"2022","b":28,"d":0.0025},{"yr":"2022","b":29,"d":0.0026},{"yr":"2022","b":30,"d":0.0027},{"yr":"2022","b":31,"d":0.0026},{"yr":"2022","b":32,"d":0.0028},{"yr":"2022","b":33,"d":0.003},{"yr":"2022","b":34,"d":0.0029},{"yr":"2022","b":35,"d":0.003},{"yr":"2022","b":36,"d":0.0029},{"yr":"2022","b":37,"d":0.0028},{"yr":"2022","b":38,"d":0.003},{"yr":"2022","b":39,"d":0.003},{"yr":"2022","b":40,"d":0.0028},{"yr":"2022","b":41,"d":0.003},{"yr":"2022","b":42,"d":0.0032},{"yr":"2022","b":43,"d":0.003},{"yr":"2022","b":44,"d":0.003},{"yr":"2022","b":45,"d":0.0045},{"yr":"2022","b":46,"d":0.0045},{"yr":"2022","b":47,"d":0.0045},{"yr":"2022","b":48,"d":0.0065},{"yr":"2022","b":49,"d":0.0085},{"yr":"2022","b":50,"d":0.0095},{"yr":"2022","b":51,"d":0.0098},{"yr":"2022","b":52,"d":0.01},{"yr":"2022","b":53,"d":0.0115},{"yr":"2022","b":54,"d":0.0135},{"yr":"2022","b":55,"d":0.0165},{"yr":"2022","b":56,"d":0.0195},{"yr":"2022","b":57,"d":0.0275},{"yr":"2022","b":58,"d":0.031},{"yr":"2022","b":59,"d":0.0325},{"yr":"2022","b":60,"d":0.0345},{"yr":"2022","b":61,"d":0.0385},{"yr":"2022","b":62,"d":0.0435},{"yr":"2022","b":63,"d":0.0525},{"yr":"2022","b":64,"d":0.0485},{"yr":"2022","b":65,"d":0.0565},{"yr":"2022","b":66,"d":0.056},{"yr":"2022","b":67,"d":0.054},{"yr":"2022","b":68,"d":0.0575},{"yr":"2022","b":69,"d":0.0525},{"yr":"2022","b":70,"d":0.0435},{"yr":"2022","b":71,"d":0.0425},{"yr":"2022","b":72,"d":0.0395},{"yr":"2022","b":73,"d":0.0375},{"yr":"2022","b":74,"d":0.034},{"yr":"2022","b":75,"d":0.0305},{"yr":"2022","b":76,"d":0.0245},{"yr":"2022","b":77,"d":0.0255},{"yr":"2022","b":78,"d":0.0225},{"yr":"2022","b":79,"d":0.019},{"yr":"2022","b":80,"d":0.0185},{"yr":"2022","b":81,"d":0.0175},{"yr":"2022","b":82,"d":0.0125},{"yr":"2022","b":83,"d":0.0095},{"yr":"2022","b":84,"d":0.0055},{"yr":"2022","b":85,"d":0.0035},{"yr":"2022","b":86,"d":0.0025},{"yr":"2022","b":87,"d":0.0015},{"yr":"2022","b":88,"d":0.001},{"yr":"2022","b":89,"d":0.0007},{"yr":"2022","b":90,"d":0.0005},{"yr":"2022","b":91,"d":0.0004},{"yr":"2022","b":92,"d":0.0003},{"yr":"2022","b":93,"d":0.0002},{"yr":"2022","b":94,"d":0.0002}
]},
"facet": {"field": "yr", "type": "ordinal", "header": {"labels": false, "title": null, "labelPadding": 0, "labelExpr": "''", "labelFontSize": 1}},
"columns": 5,
"spacing": {"row": 76, "column": 88.3},
"bounds": "flush",
"resolve": {"axis": {"x": "independent", "y": "independent"}},
"spec": {
  "width": 156,
  "height": 186,
  "layer": [
    {
      "transform": [{"filter": "isValid(datum.d)"}],
      "mark": {"type": "bar", "color": "#b3b3b3", "stroke": "#b3b3b3", "strokeWidth": 1, "binSpacing": 0},
      "encoding": {
        "x": {"field": "b", "type": "quantitative", "bin": {"binned": true, "step": 1}, "scale": {"domain": [0, 100]},
              "axis": {"title": null, "values": [0, 20, 40, 60, 80, 100], "labelExpr": "datum.value == 100 ? '' : datum.label", "format": "d", "offset": 8, "grid": false, "tickSize": 7, "labelPadding": 2, "labelFontSize": 16, "labelFont": "Liberation Sans", "labelColor": "#000000", "domainColor": "#000000", "tickColor": "#000000", "labelFlush": false, "labelOverlap": false}},
        "y": {"field": "d", "type": "quantitative", "scale": {"domain": [0, 0.06]},
              "axis": {"title": null, "values": [0, 0.01, 0.02, 0.03, 0.04, 0.05, 0.06], "format": ".2f", "offset": 6, "grid": false, "tickSize": 7, "labelPadding": 2, "labelFontSize": 16, "labelFont": "Liberation Sans", "labelColor": "#000000", "domainColor": "#000000", "tickColor": "#000000", "labelFlush": false, "labelOverlap": false}}
      }
    },
    {
      "transform": [{"filter": "isValid(datum.v)"}],
      "mark": {"type": "rule", "strokeWidth": 2.5, "strokeDash": [3, 5]},
      "encoding": {
        "x": {"field": "v", "type": "quantitative",
              "axis": {"title": null, "values": [0, 20, 40, 60, 80, 100], "labelExpr": "datum.value == 100 ? '' : datum.label", "format": "d", "offset": 8, "grid": false, "tickSize": 7, "labelPadding": 2, "labelFontSize": 16, "labelFont": "Liberation Sans", "labelColor": "#000000", "domainColor": "#000000", "tickColor": "#000000", "labelFlush": false, "labelOverlap": false}},
        "y": {"datum": 0,
              "axis": {"title": null, "values": [0, 0.01, 0.02, 0.03, 0.04, 0.05, 0.06], "format": ".2f", "offset": 6, "grid": false, "tickSize": 7, "labelPadding": 2, "labelFontSize": 16, "labelFont": "Liberation Sans", "labelColor": "#000000", "domainColor": "#000000", "tickColor": "#000000", "labelFlush": false, "labelOverlap": false}},
        "y2": {"datum": 0.0632},
        "color": {"field": "c", "type": "nominal", "scale": {"domain": ["b", "r"], "range": ["#0000ff", "#ff0000"]}, "legend": null}
      }
    },
    {
      "transform": [{"filter": "datum.c == 'b'"}],
      "mark": {"type": "text", "fontSize": 24, "fontWeight": "bold", "font": "Liberation Sans", "color": "#000000", "align": "center", "baseline": "alphabetic"},
      "encoding": {
        "x": {"datum": 54,
              "axis": {"title": null, "values": [0, 20, 40, 60, 80, 100], "labelExpr": "datum.value == 100 ? '' : datum.label", "format": "d", "offset": 8, "grid": false, "tickSize": 7, "labelPadding": 2, "labelFontSize": 16, "labelFont": "Liberation Sans", "labelColor": "#000000", "domainColor": "#000000", "tickColor": "#000000", "labelFlush": false, "labelOverlap": false}},
        "y": {"datum": 0.0668,
              "axis": {"title": null, "values": [0, 0.01, 0.02, 0.03, 0.04, 0.05, 0.06], "format": ".2f", "offset": 6, "grid": false, "tickSize": 7, "labelPadding": 2, "labelFontSize": 16, "labelFont": "Liberation Sans", "labelColor": "#000000", "domainColor": "#000000", "tickColor": "#000000", "labelFlush": false, "labelOverlap": false}},
        "text": {"field": "yr"}
      }
    }
  ]
}
}
